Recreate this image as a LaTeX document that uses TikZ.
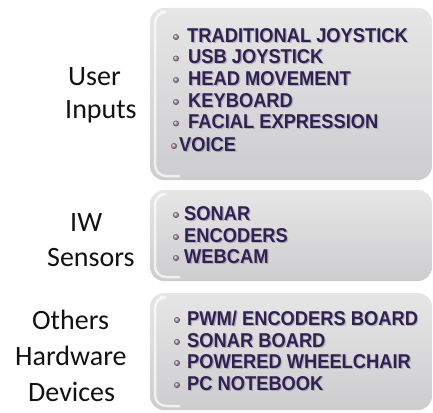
\documentclass[tikz,border=0pt]{standalone}
\usepackage{fontspec}
\setmainfont{Liberation Sans}
\newfontfamily\labelfont{Carlito}
\newfontfamily\itemfont{Liberation Sans}
\usetikzlibrary{shadings}
\definecolor{itemcol}{RGB}{48,34,80}
\definecolor{itemsh}{RGB}{175,170,190}
\definecolor{boxtop}{RGB}{230,230,230}
\definecolor{boxbot}{RGB}{205,205,208}
\definecolor{labcol}{RGB}{18,18,18}
\tikzset{
  panel/.style={rounded corners=14pt, top color=boxtop, bottom color=boxbot, draw=none},
  glow/.style={white, opacity=0.7, line width=2.5pt, rounded corners=11pt},
  lab/.style={anchor=base west, inner sep=0pt, text=labcol, font=\labelfont\fontsize{28}{30}\selectfont},
  itm/.style={anchor=base west, inner sep=0pt, text=itemcol, font=\itemfont\bfseries\fontsize{20}{22}\selectfont},
  bul/.style={circle, inner sep=0pt, minimum size=6pt, ball color=gray!55!violet!60!white, draw=none}
}
\newcommand{\nar}[1]{\scalebox{0.915}[1]{#1}}
\newcommand{\itxt}[1]{\rlap{\hspace{1.2pt}\raisebox{-1.4pt}{\textcolor{itemsh}{\nar{#1}}}}\nar{#1}}
\begin{document}
\begin{tikzpicture}[x=1pt,y=-1pt]
\useasboundingbox (0,0) rectangle (433,412);
\fill[white] (0,0) rectangle (433,412);
% panels
\path[panel] (150,8) rectangle (432,180);
\path[panel] (150,190) rectangle (432,281);
\path[panel] (150,293) rectangle (432,410);
\draw[glow] (160,12) -- (155,12) -- (155,176) -- (180,176);
\draw[glow] (160,194) -- (155,194) -- (155,277) -- (180,277);
\draw[glow] (160,297) -- (155,297) -- (155,406) -- (180,406);
% left labels
\node[lab] (u1) at (68,85) {User};
\node[lab] (u2) at (65,118) {Inputs};
\node[lab] (s1) at (70,231) {IW};
\node[lab] (s2) at (47,266) {Sensors};
\node[lab] (o1) at (32,329) {Others};
\node[lab] (o2) at (15,365) {Hardware};
\node[lab] (o3) at (28,401) {Devices};
% items box 1
\node[bul] (b1) at (176,37) {};
\node[itm] (i1) at (187,42) {\itxt{TRADITIONAL JOYSTICK}};
\node[bul] (b2) at (176,58.5) {};
\node[itm] (i2) at (188,63.5) {\itxt{USB JOYSTICK}};
\node[bul] (b3) at (176,80) {};
\node[itm] (i3) at (188,85) {\itxt{HEAD MOVEMENT}};
\node[bul] (b4) at (176,102) {};
\node[itm] (i4) at (188,107) {\itxt{KEYBOARD}};
\node[bul] (b5) at (176,123.5) {};
\node[itm] (i5) at (188,128.5) {\itxt{FACIAL EXPRESSION}};
\node[bul] (b6) at (174,146) {};
\node[itm] (i6) at (179,151) {\itxt{VOICE}};
% items box 2
\node[bul] (b7) at (176,215) {};
\node[itm] (i7) at (184,220) {\itxt{SONAR}};
\node[bul] (b8) at (176,237) {};
\node[itm] (i8) at (184,242) {\itxt{ENCODERS}};
\node[bul] (b9) at (176,258) {};
\node[itm] (i9) at (184,263) {\itxt{WEBCAM}};
% items box 3
\node[bul] (b10) at (177,320) {};
\node[itm] (i10) at (187,325) {\itxt{PWM/ ENCODERS BOARD}};
\node[bul] (b11) at (177,342) {};
\node[itm] (i11) at (187,347) {\itxt{SONAR BOARD}};
\node[bul] (b12) at (177,363) {};
\node[itm] (i12) at (187,368) {\itxt{POWERED WHEELCHAIR}};
\node[bul] (b13) at (177,385) {};
\node[itm] (i13) at (187,390) {\itxt{PC NOTEBOOK}};
\end{tikzpicture}
\end{document}
